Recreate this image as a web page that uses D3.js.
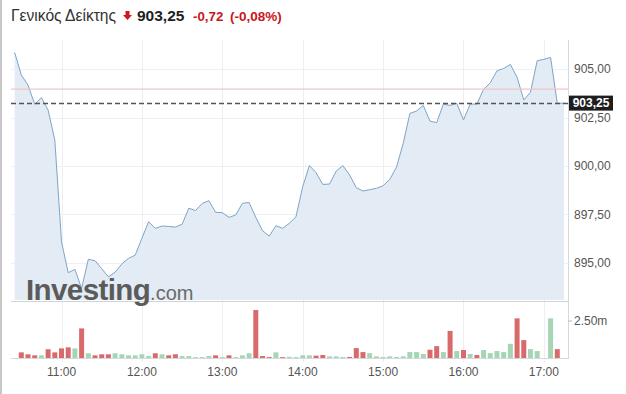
<!DOCTYPE html>
<html><head><meta charset="utf-8">
<script src="https://cdn.jsdelivr.net/npm/d3@7"></script>
<style>
html,body{margin:0;padding:0;background:#fff;}
svg{display:block;font-family:"Liberation Sans",Arial,sans-serif;}
</style></head>
<body><svg id="c" width="626" height="394"></svg>
<script>
// ---- data ----
const titleName = "Γενικός Δείκτης";
const lastPrice = 903.25;
const changeText = "-0,72";
const changePctText = "(-0,08%)";
const prevClose = 903.97;
const startMinute = 10 * 60 + 25;   // first price point 10:25, 5-minute steps
const stepMinutes = 5;
const priceValues = [905.87, 904.70, 904.18, 903.19, 903.53, 902.89, 901.34, 896.09, 894.49, 894.66,
  893.68, 895.18, 895.11, 894.70, 894.28, 894.51, 894.94, 895.23, 895.40, 896.27,
  897.12, 896.78, 896.90, 896.88, 896.85, 896.99, 897.82, 897.70, 898.07, 898.21,
  897.61, 897.59, 897.35, 897.47, 898.07, 898.12, 897.35, 896.66, 896.38, 896.92,
  896.78, 897.04, 897.38, 898.93, 900.03, 899.65, 899.05, 899.07, 899.74, 900.02,
  899.54, 898.88, 898.71, 898.78, 898.85, 898.98, 899.31, 899.94, 901.17, 902.72,
  902.84, 903.13, 902.32, 902.24, 903.20, 903.13, 903.24, 902.38, 903.20, 903.20,
  903.96, 904.30, 904.92, 905.04, 905.25, 904.58, 903.41, 903.81, 905.44, 905.51,
  905.61, 903.24, 903.25];
const volStartMinute = 10 * 60 + 30; // first volume bar 10:30
const volumeValues = [0.38, 0.25, 0.18, 0.18, 0.59, 0.38, 0.65, 0.72, 0.65, 2.0,
  0.32, 0.18, 0.25, 0.25, 0.32, 0.25, 0.18, 0.18, 0.25, 0.13,
  0.32, 0.25, 0.18, 0.25, 0.13, 0.13, 0.06, 0.06, 0.13, 0.18,
  0.06, 0.18, 0.06, 0.18, 0.32, 3.24, 0.13, 0.06, 0.38, 0.06,
  0.08, 0.06, 0.18, 0.18, 0.16, 0.20, 0.11, 0.11, 0.07, 0.07,
  0.67, 0.40, 0.33, 0.11, 0.07, 0.11, 0.07, 0.11, 0.40, 0.40,
  0.27, 0.56, 0.80, 0.40, 1.83, 0.47, 0.54, 0.27, 0.20, 0.54,
  0.33, 0.47, 0.40, 0.96, 2.68, 1.21, 0.60, 0.47, 0, 2.68, 0.60];
const volumeDir = ["d","d","d","u","d","d","d","d","u","d",
  "u","d","d","d","u","u","u","u","u","u",
  "d","u","d","d","u","u","u","u","u","d",
  "u","d","u","u","u","d","d","d","u","d",
  "u","u","u","u","d","d","u","u","u","d",
  "d","d","u","u","u","u","u","u","u","u",
  "u","d","d","u","d","u","d","u","d","u",
  "u","u","u","u","d","d","u","u","u","u","d"];
const hourTicks = [660, 720, 780, 840, 900, 960, 1020];
const hourLabels = ["11:00", "12:00", "13:00", "14:00", "15:00", "16:00", "17:00"];
const priceTicks = [895, 897.5, 900, 902.5, 905];
const priceTickLabels = ["895,00", "897,50", "900,00", "902,50", "905,00"];
const volTicks = [2.5];
const volTickLabels = ["2.50m"];

// ---- layout ----
const svg = d3.select("#c");
const L = 11, R = 568;
const pTop = 40, pBot = 300, vTop = 301, vBot = 358;
const x = d3.scaleLinear().domain([622.3, 1038]).range([L, R]);
const y = d3.scaleLinear().domain([893.08, 906.51]).range([pBot, pTop]);
const yv = d3.scaleLinear().domain([0, 2.5]).range([vBot, 321]);

const pts = priceValues.map((v, i) => ({t: startMinute + i * stepMinutes, v}));
const bars = volumeValues.map((v, i) => ({t: volStartMinute + i * stepMinutes, v, d: volumeDir[i]}));

// left border
svg.append("rect").attr("x", 0).attr("y", 0).attr("width", 2).attr("height", 394).attr("fill", "#c8c8c8");

// gridlines
svg.append("g").selectAll("line").data(priceTicks).join("line")
  .attr("x1", L).attr("x2", R).attr("y1", d => Math.round(y(d)) + 0.5).attr("y2", d => Math.round(y(d)) + 0.5)
  .attr("stroke", "#eef0f3");
svg.append("g").selectAll("line").data(hourTicks).join("line")
  .attr("x1", d => Math.round(x(d)) + 0.5).attr("x2", d => Math.round(x(d)) + 0.5)
  .attr("y1", pTop).attr("y2", vBot + 4).attr("stroke", "#eceef1");

// area + line
const area = d3.area().x(d => x(d.t)).y0(pBot).y1(d => y(d.v));
svg.append("path").datum(pts).attr("d", area).attr("fill", "#e3ebf4");
const line = d3.line().x(d => x(d.t)).y(d => y(d.v));
svg.append("path").datum(pts).attr("d", line).attr("fill", "none")
  .attr("stroke", "#7ea5c6").attr("stroke-width", 1).attr("stroke-linejoin", "round");

// previous close line and last price dashed line
svg.append("line").attr("x1", L).attr("x2", R).attr("y1", y(prevClose)).attr("y2", y(prevClose))
  .attr("stroke", "#f0c6c8").attr("stroke-width", 1.2);
svg.append("line").attr("x1", L).attr("x2", R).attr("y1", Math.round(y(lastPrice)) + 0.5).attr("y2", Math.round(y(lastPrice)) + 0.5)
  .attr("stroke", "#555").attr("stroke-width", 1.3).attr("stroke-dasharray", "5,3");

// volume bars
svg.append("g").selectAll("rect").data(bars.filter(b => b.v > 0)).join("rect")
  .attr("x", d => x(d.t) - 2.5).attr("width", 5)
  .attr("y", d => yv(d.v)).attr("height", d => vBot - yv(d.v))
  .attr("fill", d => d.d === "d" ? "#d96a6b" : "#a6d5b6");

// pane borders
svg.append("line").attr("x1", R + 0.5).attr("x2", R + 0.5).attr("y1", pTop).attr("y2", vBot).attr("stroke", "#d5d8dc");
svg.append("line").attr("x1", L).attr("x2", R).attr("y1", vTop + 0.5).attr("y2", vTop + 0.5).attr("stroke", "#cfd3d7");
svg.append("line").attr("x1", L).attr("x2", R + 1).attr("y1", vBot + 0.5).attr("y2", vBot + 0.5).attr("stroke", "#d5d8dc");

// price axis labels
svg.append("g").selectAll("text").data(priceTicks).join("text")
  .attr("x", 574).attr("y", d => y(d)).attr("dy", "0.35em")
  .attr("font-size", 12).attr("fill", "#555").text((d, i) => priceTickLabels[i]);

// volume axis
svg.append("g").selectAll("line").data(volTicks).join("line")
  .attr("x1", R).attr("x2", R + 4).attr("y1", d => yv(d)).attr("y2", d => yv(d)).attr("stroke", "#bbb");
svg.append("g").selectAll("text").data(volTicks).join("text")
  .attr("x", 574).attr("y", d => yv(d)).attr("dy", "0.35em")
  .attr("font-size", 12).attr("fill", "#555").text((d, i) => volTickLabels[i]);

// time axis labels
svg.append("g").selectAll("text").data(hourTicks).join("text")
  .attr("x", d => x(d)).attr("y", 372).attr("dy", "0.35em").attr("text-anchor", "middle")
  .attr("font-size", 12).attr("fill", "#555").text((d, i) => hourLabels[i]);

// last price box
const ly = y(lastPrice);
svg.append("rect").attr("x", 569).attr("y", ly - 7.5).attr("width", 44).attr("height", 15).attr("fill", "#1e1e1e");
svg.append("text").attr("x", 591).attr("y", ly).attr("dy", "0.36em").attr("text-anchor", "middle")
  .attr("font-size", 12).attr("font-weight", "bold").attr("fill", "#fff")
  .text(d3.format(".2f")(lastPrice).replace(".", ","));

// watermark logo
const logo = svg.append("text").attr("x", 26).attr("y", 300);
logo.append("tspan").attr("font-size", 29.5).attr("font-weight", "bold").attr("fill", "#5b5b5b")
  .attr("letter-spacing", -0.6).text("Investing");
logo.append("tspan").attr("font-size", 20).attr("fill", "#6a6a6a").text(".com");

// title
svg.append("text").attr("x", 11).attr("y", 21).attr("font-size", 15.6).attr("fill", "#333").text(titleName);
svg.append("path").attr("d", "M125.5,11 h4 v4 h2.5 l-4.5,5 l-4.5,-5 h2.5 z").attr("fill", "#d0191e");
svg.append("text").attr("x", 137).attr("y", 21).attr("font-size", 15.5).attr("font-weight", "bold").attr("fill", "#222")
  .text(d3.format(".2f")(lastPrice).replace(".", ","));
svg.append("text").attr("x", 193).attr("y", 21).attr("font-size", 13.3).attr("font-weight", "bold").attr("fill", "#c8161d").text(changeText);
svg.append("text").attr("x", 230).attr("y", 21).attr("font-size", 13.5).attr("font-weight", "bold").attr("fill", "#c8161d").text(changePctText);
</script></body></html>
